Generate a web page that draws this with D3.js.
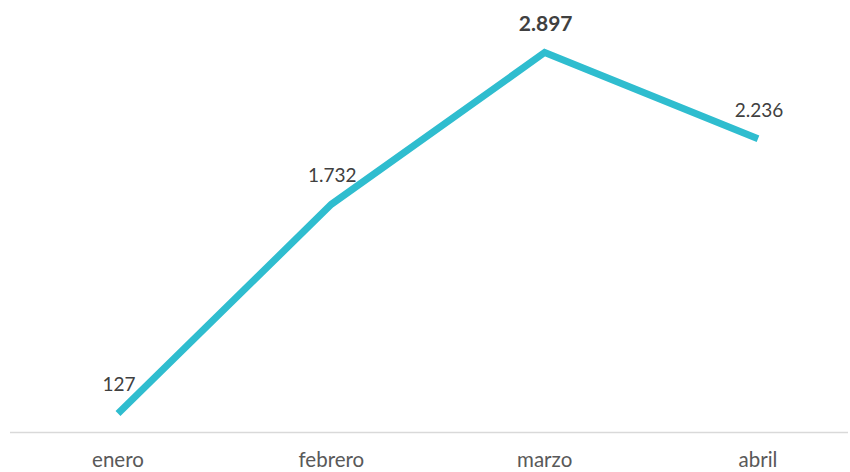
<!DOCTYPE html>
<html>
<head>
<meta charset="utf-8">
<script src="https://cdn.jsdelivr.net/npm/d3@7"></script>
<style>
	body { margin: 0; background: #fff; }
	svg { display: block; }
</style>
</head>
<body>
<script>
// data
var months = ["enero", "febrero", "marzo", "abril"];
var values = [127, 1732, 2897, 2236];
var labels = ["127", "1.732", "2.897", "2.236"];

var width = 850, height = 472;

var svg = d3.select("body").append("svg")
	.attr("width", width)
	.attr("height", height);

var x = d3.scalePoint()
	.domain(months)
	.range([118, 758]);

var y = d3.scaleLinear()
	.domain([0, 3300])
	.range([430, 0]);

// axis baseline
svg.append("line")
	.attr("x1", 10)
	.attr("x2", 848)
	.attr("y1", 432.5)
	.attr("y2", 432.5)
	.attr("stroke", "#d9d9d9")
	.attr("stroke-width", 1.3);

// month labels
svg.selectAll(".mlabel")
	.data(months)
	.enter()
	.append("text")
	.attr("class", "mlabel")
	.attr("x", function (d) { return x(d); })
	.attr("y", 467)
	.attr("text-anchor", "middle")
	.attr("font-family", "Lato, sans-serif")
	.attr("font-size", "20.5px")
	.attr("fill", "#595959")
	.text(function (d) { return d; });

var line = d3.line()
	.x(function (d, i) { return x(months[i]); })
	.y(function (d) { return y(d); });

svg.append("path")
	.datum(values)
	.attr("d", line)
	.attr("fill", "none")
	.attr("stroke", "#2fbdcf")
	.attr("stroke-width", 7)
	.attr("stroke-linejoin", "miter");

// value labels
svg.selectAll(".vlabel")
	.data(values)
	.enter()
	.append("text")
	.attr("class", "vlabel")
	.attr("x", function (d, i) { return x(months[i]) + 1; })
	.attr("y", function (d) { return y(d) - 22; })
	.attr("text-anchor", "middle")
	.attr("font-family", "Lato, sans-serif")
	.attr("font-size", function (d, i) { return i === 2 ? "21px" : "19px"; })
	.attr("font-weight", function (d, i) { return i === 2 ? "bold" : "normal"; })
	.attr("fill", "#404040")
	.text(function (d, i) { return labels[i]; });
</script>
</body>
</html>
